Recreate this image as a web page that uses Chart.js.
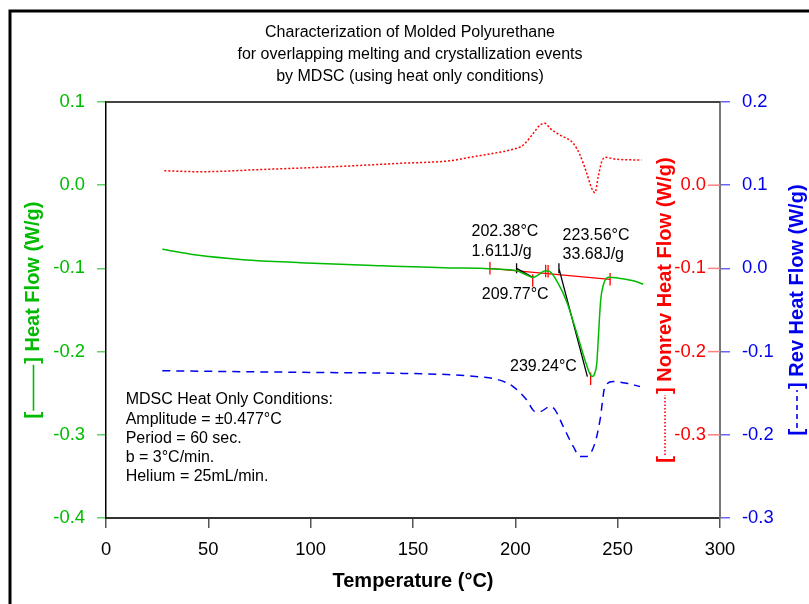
<!DOCTYPE html>
<html><head><meta charset="utf-8">
<script src="https://cdn.jsdelivr.net/npm/chart.js@4/dist/chart.umd.min.js"></script>
<style>html,body{margin:0;padding:0;background:#fff}#c{display:block}</style>
</head><body>
<canvas id="c" width="809" height="604"></canvas>
<script>
// ---- data ----
const titleLines = ['Characterization of Molded Polyurethane','for overlapping melting and crystallization events','by MDSC (using heat only conditions)'];
const xTickStep = 50;
const heatTemp = [27.5,44.3,66.9,94.8,127.4,168.1,182.7,192.5,200.7,205.5,208.6,211.1,214.5,216.9,220.8,225.1,230.0,234.0,236.3,237.5,238.8,239.8,240.5,241.7,243.0,245.4,251.1,257.6,262.5];
const heatFlow = [-0.077,-0.084,-0.0895,-0.0931,-0.0963,-0.0995,-0.0999,-0.1011,-0.1028,-0.108,-0.1107,-0.108,-0.1028,-0.104,-0.1175,-0.140,-0.1776,-0.210,-0.226,-0.230,-0.226,-0.214,-0.186,-0.138,-0.120,-0.1107,-0.112,-0.1148,-0.119];
const nonrevTemp = [28.5,45.9,78.5,110.9,143.6,168.1,177.8,189.2,197.4,203.9,208.8,212.1,214.5,216.9,221.8,228.3,231.6,234.9,237.3,238.9,240.5,242.2,243.8,249.5,261.7];
const nonrevFlow = [0.0174,0.0162,0.0191,0.0222,0.0263,0.0294,0.0335,0.0383,0.0423,0.0483,0.0624,0.0724,0.0744,0.0684,0.0603,0.0504,0.0363,0.0143,-0.0037,-0.009,0.0102,0.0282,0.0335,0.0311,0.0303];
const revTemp = [27.5,60,100,140,170,183,190.5,198.9,205.5,209.6,212.1,217,219.4,223.4,228.3,231.6,234.9,238.9,241.4,243.8,247.9,254.4,260.9];
const revFlow = [-0.123,-0.124,-0.125,-0.126,-0.128,-0.1305,-0.133,-0.142,-0.158,-0.172,-0.172,-0.166,-0.170,-0.190,-0.214,-0.226,-0.226,-0.210,-0.182,-0.142,-0.136,-0.138,-0.142];
const nonrevTickValues = [0.0,-0.1,-0.2,-0.3];
// integration baseline (red) and tangent constructions (black), [temp, heat flow]
const baselineTemp = [187.6,246.3];
const baselineFlow = [-0.0999,-0.1131];
const redMarkTemp = [187.6,214.8,216.0,246.3,208.5,236.8];
const redMarkFlow = [-0.0999,-0.1031,-0.1034,-0.1131,-0.1145,-0.2325];
const tangentTemp = [[200.6,208.5],[221.3,235.2]];
const tangentFlow = [[-0.0999,-0.1107],[-0.0999,-0.230]];
const blackMarkTemp = [200.6,221.3];
const blackMarkFlow = [-0.0999,-0.0999];
const peakLabels = [
  {text:'202.38°C', t:178.6, v:-0.0560},
  {text:'1.611J/g', t:178.6, v:-0.0800},
  {text:'223.56°C', t:223.1, v:-0.0600},
  {text:'33.68J/g', t:223.1, v:-0.0840},
  {text:'209.77°C', t:183.6, v:-0.1320},
  {text:'239.24°C', t:197.4, v:-0.2180}
];
const conditions = ['MDSC Heat Only Conditions:','Amplitude = ±0.477°C','Period = 60 sec.','b = 3°C/min.','Helium = 25mL/min.'];
const conditionsAnchor = {t:9.6, v:-0.258};

// ---- styles ----
const FAM = '"Liberation Sans", Arial, Helvetica, sans-serif';
const GREEN = '#00bb00', RED = '#ff0000', BLUE = '#0000ee';

const pts = (xs, ys) => xs.map((x,i)=>({x:x, y:ys[i]}));
const redSeg = pts(baselineTemp, baselineFlow);
redMarkTemp.forEach((t,i)=>{ redSeg.push({x:t,y:null}); redSeg.push({x:t,y:redMarkFlow[i]+0.0075}); redSeg.push({x:t,y:redMarkFlow[i]-0.0075}); });
const blackSeg = [];
tangentTemp.forEach((ts,i)=>{ if(i) blackSeg.push({x:ts[0],y:null}); blackSeg.push({x:ts[0],y:tangentFlow[i][0]}); blackSeg.push({x:ts[1],y:tangentFlow[i][1]}); });
blackMarkTemp.forEach((t,i)=>{ blackSeg.push({x:t,y:null}); blackSeg.push({x:t,y:blackMarkFlow[i]+0.006}); blackSeg.push({x:t,y:blackMarkFlow[i]-0.006}); });

const decor = {
  id:'decor',
  beforeDraw(chart){
    const c = chart.ctx; c.save();
    c.fillStyle='#fff'; c.fillRect(0,0,chart.width,chart.height);
    c.strokeStyle='#000'; c.lineWidth=3; c.strokeRect(10,11,900,700);
    c.fillStyle='#000'; c.font='16px '+FAM; c.textAlign='center'; c.textBaseline='middle';
    titleLines.forEach((l,i)=>c.fillText(l, 410, 33+i*22));
    c.restore();
  },
  afterDraw(chart){
    const c = chart.ctx, a = chart.chartArea; c.save();
    c.strokeStyle='#444'; c.lineWidth=2; c.beginPath(); c.moveTo(a.left,a.top); c.lineTo(a.right,a.top); c.stroke();
    const ys = chart.scales.yNonrev;
    c.font='18.4px '+FAM; c.textAlign='right'; c.textBaseline='middle';
    nonrevTickValues.forEach(v=>{
      const y = ys.getPixelForValue(v);
      c.strokeStyle='#ff8080'; c.lineWidth=1.5; c.beginPath(); c.moveTo(a.right-12,y); c.lineTo(a.right,y); c.stroke();
      c.fillStyle=RED; c.fillText(v.toFixed(1), a.right-14, y);
    });
    const mid = (a.top+a.bottom)/2;
    drawAxisTitle(c, 33.5, mid, 'Heat Flow (W/g)', GREEN, [], 48);
    drawAxisTitle(c, 665, mid, 'Nonrev Heat Flow (W/g)', RED, [1.5,2], 62);
    drawAxisTitle(c, 797, mid, 'Rev Heat Flow (W/g)', BLUE, [5,4], 40);
    const xs = chart.scales.x, yg = chart.scales.y;
    c.fillStyle='#000'; c.textAlign='left'; c.textBaseline='middle'; c.font='16px '+FAM;
    peakLabels.forEach(p=>c.fillText(p.text, xs.getPixelForValue(p.t), yg.getPixelForValue(p.v)));
    const cx = xs.getPixelForValue(conditionsAnchor.t), cy = yg.getPixelForValue(conditionsAnchor.v);
    conditions.forEach((l,i)=>c.fillText(l, cx, cy+i*19.3));
    c.restore();
  }
};
function drawAxisTitle(c, cx, cy, text, color, dash, sample){
  c.save(); c.translate(cx, cy); c.rotate(-Math.PI/2);
  c.font='bold 20px '+FAM; c.fillStyle=color; c.textBaseline='middle'; c.textAlign='left';
  const wo = c.measureText('[').width, wc = c.measureText('] ').width, wt = c.measureText(text).width;
  const total = wo + sample + wc + wt; let x = -total/2;
  c.fillText('[', x, 0); x += wo;
  c.strokeStyle=color; c.lineWidth=1.6; c.setLineDash(dash); c.beginPath(); c.moveTo(x+1, 0); c.lineTo(x+sample-1, 0); c.stroke(); c.setLineDash([]);
  x += sample; c.fillText('] ', x, 0); x += wc; c.fillText(text, x, 0);
  c.restore();
}

new Chart(document.getElementById('c'), {
  type:'line',
  data:{ datasets:[
    {data:pts(nonrevTemp,nonrevFlow), yAxisID:'yNonrev', borderColor:RED, borderWidth:1.5, borderDash:[2,2], pointRadius:0, cubicInterpolationMode:'monotone'},
    {data:pts(revTemp,revFlow), yAxisID:'yRev', borderColor:BLUE, borderWidth:1.5, borderDash:[8,6], pointRadius:0, cubicInterpolationMode:'monotone'},
    {data:pts(heatTemp,heatFlow), yAxisID:'y', borderColor:GREEN, borderWidth:1.5, pointRadius:0, cubicInterpolationMode:'monotone'},
    {data:blackSeg, yAxisID:'y', borderColor:'#000', borderWidth:1.3, pointRadius:0, tension:0, spanGaps:false},
    {data:redSeg, yAxisID:'y', borderColor:RED, borderWidth:1.3, pointRadius:0, tension:0, spanGaps:false}
  ]},
  options:{
    responsive:false, animation:false, devicePixelRatio:1,
    layout:{padding:{top:102,left:0,right:0,bottom:0}},
    plugins:{legend:{display:false}, title:{display:false}, tooltip:{enabled:false}},
    scales:{
      x:{type:'linear', min:0, max:300,
         ticks:{stepSize:xTickStep, color:'#000', font:{size:18.4, family:FAM}, padding:11, maxRotation:0},
         grid:{drawOnChartArea:false, tickLength:10, color:'#555', lineWidth:1.5},
         border:{color:'#333', width:2},
         title:{display:true, text:'Temperature (°C)', color:'#000', font:{size:20, weight:'bold', family:FAM}, padding:{top:0,bottom:11}},
         afterFit(s){ s.height = 86; }},
      y:{position:'left', min:-0.4, max:0.1,
         ticks:{stepSize:0.1, color:GREEN, font:{size:18.4, family:FAM}, padding:12, callback:v=>Number(v).toFixed(1)},
         grid:{drawOnChartArea:false, tickLength:9, color:'#66d066', lineWidth:1.5},
         border:{color:'#000', width:1.5},
         afterFit(s){ s.width = 106; }},
      yRev:{position:'right', min:-0.3, max:0.2,
         ticks:{stepSize:0.1, color:BLUE, font:{size:18.4, family:FAM}, padding:12, callback:v=>Number(v).toFixed(1)},
         grid:{drawOnChartArea:false, tickLength:10, color:'#6666ff', lineWidth:1.5},
         border:{color:'#777', width:2},
         afterFit(s){ s.width = 89; }},
      yNonrev:{display:false, position:'right', min:-0.4, max:0.1}
    }
  },
  plugins:[decor]
});
</script>
</body></html>
